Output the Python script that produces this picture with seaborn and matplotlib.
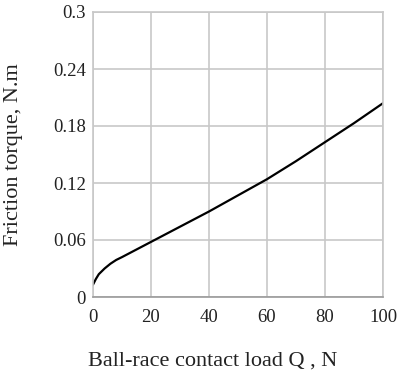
import matplotlib
matplotlib.use("Agg")
import matplotlib.pyplot as plt
import seaborn as sns
import pandas as pd

# Friction torque versus ball-race contact load
load_q = [0, 1, 2, 4, 6, 8, 10, 15, 20, 30, 40, 50, 60, 70, 80, 90, 100]
torque = [0.013, 0.019, 0.024, 0.030, 0.035, 0.039, 0.042, 0.050, 0.058,
          0.074, 0.090, 0.107, 0.124, 0.143, 0.163, 0.183, 0.204]

x_ticks = [0, 20, 40, 60, 80, 100]
y_ticks = [0, 0.06, 0.12, 0.18, 0.24, 0.3]
y_tick_labels = ["0", "0.06", "0.12", "0.18", "0.24", "0.3"]

sns.set_style("white")
plt.rcParams["font.family"] = ["Liberation Serif", "DejaVu Serif"]

df = pd.DataFrame({"Q": load_q, "T": torque})

fig = plt.figure(figsize=(3.98, 3.75), dpi=100)
ax = fig.add_axes([93 / 398, 1 - 297 / 375, 290 / 398, 285 / 375])

sns.lineplot(data=df, x="Q", y="T", ax=ax, color="black", linewidth=1.6)

ax.set_xlim(0, 100)
ax.set_ylim(0, 0.3)
ax.set_xticks(x_ticks)
ax.set_yticks(y_ticks)
ax.set_yticklabels(y_tick_labels)
ax.grid(True, color="#c8c8c8", linewidth=1.2)
for side in ["top", "right", "left"]:
    ax.spines[side].set_color("#c8c8c8")
    ax.spines[side].set_linewidth(1.2)
ax.spines["bottom"].set_color("#9a9a9a")
ax.spines["bottom"].set_linewidth(1.2)
ax.tick_params(axis="both", length=0, labelsize=13.5, colors="#222222")
ax.tick_params(axis="y", pad=5)
ax.tick_params(axis="x", pad=9)

ax.set_xlabel("Ball-race contact load Q , N", fontsize=16, color="#222222")
ax.xaxis.set_label_coords(120 / 290, -55 / 285)
ax.set_ylabel("Friction torque, N.m", fontsize=16, color="#222222")
ax.yaxis.set_label_coords(-70 / 290, 0.5)

fig.savefig("out.png", dpi=100)
